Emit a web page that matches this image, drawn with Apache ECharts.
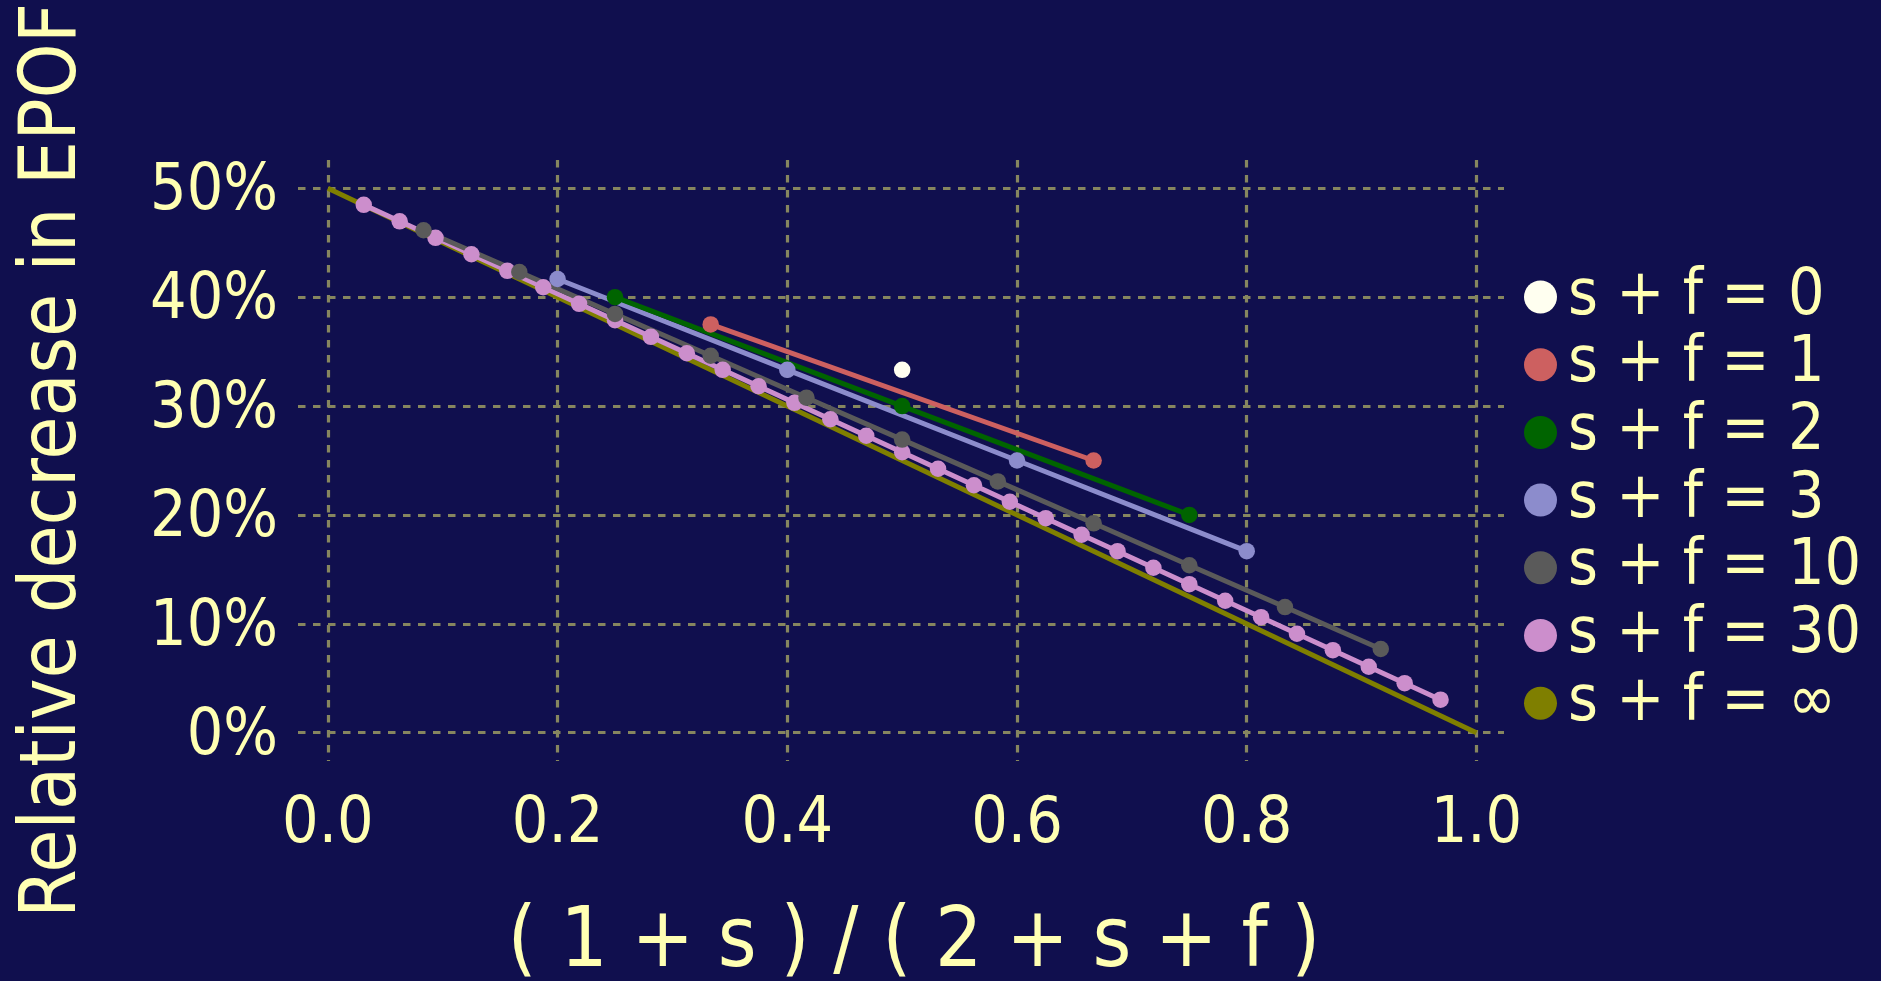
<!DOCTYPE html>
<html>
<head>
<meta charset="utf-8">
<script src="https://cdn.jsdelivr.net/npm/echarts@6/dist/echarts.min.js"></script>
<style>
html,body{margin:0;padding:0;background:#100f4e;}
#chart{width:1881px;height:981px;}
</style>
</head>
<body>
<div id="chart"></div>
<script>
// ---- data ----
const seriesNames = ['s + f = 0','s + f = 1','s + f = 2','s + f = 3','s + f = 10','s + f = 30','s + f = ∞'];
const xTicks = [0, 0.2, 0.4, 0.6, 0.8, 1.0];
const yTicks = [0, 10, 20, 30, 40, 50];

const x0 = [0.5];
const y0 = [33.33];
const x1 = [0.3333, 0.6667];
const y1 = [37.5, 25.0];
const x2 = [0.25, 0.5, 0.75];
const y2 = [40.0, 30.0, 20.0];
const x3 = [0.2, 0.4, 0.6, 0.8];
const y3 = [41.67, 33.33, 25.0, 16.67];
const x10 = [0.0833, 0.1667, 0.25, 0.3333, 0.4167, 0.5, 0.5833, 0.6667, 0.75, 0.8333, 0.9167];
const y10 = [46.15, 42.31, 38.46, 34.62, 30.77, 26.92, 23.08, 19.23, 15.38, 11.54, 7.69];
const x30 = [0.03125, 0.0625, 0.09375, 0.125, 0.15625, 0.1875, 0.21875, 0.25, 0.28125, 0.3125,
             0.34375, 0.375, 0.40625, 0.4375, 0.46875, 0.5, 0.53125, 0.5625, 0.59375, 0.625,
             0.65625, 0.6875, 0.71875, 0.75, 0.78125, 0.8125, 0.84375, 0.875, 0.90625, 0.9375, 0.96875];
const y30 = [48.48, 46.97, 45.45, 43.94, 42.42, 40.91, 39.39, 37.88, 36.36, 34.85,
             33.33, 31.82, 30.30, 28.79, 27.27, 25.76, 24.24, 22.73, 21.21, 19.70,
             18.18, 16.67, 15.15, 13.64, 12.12, 10.61, 9.09, 7.58, 6.06, 4.55, 3.03];
const xInf = [0, 1];
const yInf = [50, 0];

// ---- style ----
const colors = ['#fffff0', '#cd6060', '#006400', '#8c8ccc', '#5a5a5a', '#cc8ecc', '#7f7f00'];
const FONT = "'DejaVu Sans Condensed', 'DejaVu Sans', sans-serif";
const TXT = '#ffffb3';
const GRIDC = '#86865f';

function pairs(xs, ys){ return xs.map((x,i)=>[x, ys[i]]); }

const dataSets = [[x0,y0],[x1,y1],[x2,y2],[x3,y3],[x10,y10],[x30,y30],[xInf,yInf]];

// draw order: ∞ first (bottom), then 30, 10, 3, 2, 1, 0
const drawOrder = [6,5,4,3,2,1,0];
const series = drawOrder.map(i => ({
  name: seriesNames[i],
  type: 'line',
  data: pairs(dataSets[i][0], dataSets[i][1]),
  showSymbol: i !== 6,
  symbol: 'circle',
  symbolSize: 16.5,
  lineStyle: { color: colors[i], width: 5 },
  itemStyle: { color: colors[i] },
  emphasis: { disabled: true },
  animation: false,
  silent: true
}));

const chart = echarts.init(document.getElementById('chart'));
chart.setOption({
  backgroundColor: '#100f4e',
  animation: false,
  textStyle: { fontFamily: FONT },
  grid: { left: 298, top: 160, width: 1206, height: 601, containLabel: false, outerBoundsMode: 'none' },
  legend: {
    data: seriesNames,
    orient: 'vertical',
    left: 1519,
    top: 260,
    icon: 'circle',
    itemWidth: 33,
    itemHeight: 33,
    itemGap: 3.7,
    textStyle: { color: TXT, fontSize: 64, fontFamily: FONT, padding: [0,0,0,6] }
  },
  xAxis: {
    type: 'value',
    min: -0.026,
    max: 1.024,
    name: '( 1 + s ) / ( 2 + s + f )',
    nameLocation: 'middle',
    nameGap: 142,
    nameTextStyle: { color: TXT, fontSize: 83, fontFamily: FONT, padding: [0,0,0,26] },
    axisLine: { show: false },
    axisTick: { show: false, customValues: xTicks },
    axisLabel: { customValues: xTicks, color: TXT, fontSize: 64, fontFamily: FONT, margin: 32,
                 formatter: v => Number(v).toFixed(1) },
    splitLine: { show: true, lineStyle: { color: GRIDC, width: 3.2, type: [7.5, 7.5] } }
  },
  yAxis: {
    type: 'value',
    min: -2.6,
    max: 52.6,
    name: 'Relative decrease in EPOF',
    nameLocation: 'middle',
    nameRotate: 90,
    nameGap: 204,
    nameTextStyle: { color: TXT, fontSize: 78, fontFamily: FONT },
    axisLine: { show: false },
    axisTick: { show: false, customValues: yTicks },
    axisLabel: { customValues: yTicks, color: TXT, fontSize: 64, fontFamily: FONT, margin: 20,
                 formatter: v => '{p|' + Math.round(v) + '%}',
                 rich: { p: { color: TXT, fontSize: 64, fontFamily: FONT, padding: [9, 0, 0, 0] } } },
    splitLine: { show: true, lineStyle: { color: GRIDC, width: 3.2, type: [7.5, 7.5] } }
  },
  series: series
});
</script>
</body>
</html>
